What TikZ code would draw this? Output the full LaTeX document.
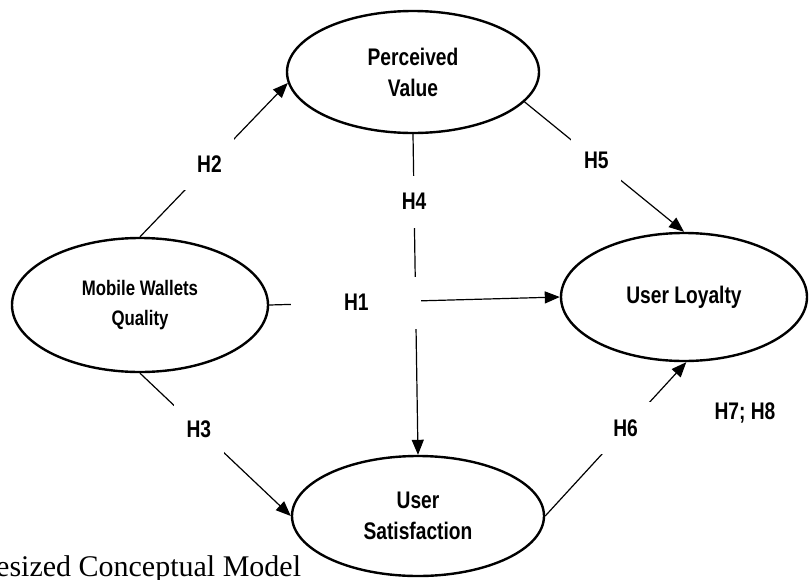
\documentclass[tikz,border=0pt]{standalone}
\usepackage{fontspec}
\usepackage{tikz}
\usetikzlibrary{arrows.meta,shapes.geometric}
\setmainfont{Liberation Serif}
\newfontfamily\hypfont[FakeStretch=0.8]{Liberation Sans}
\tikzset{
  construct/.style={ellipse, draw=black, line width=2.4pt, fill=white, align=center,
    inner sep=0pt, font=\hypfont\bfseries\fontsize{24}{31}\selectfont},
  hyplabel/.style={fill=white, inner sep=0pt, minimum width=50pt, minimum height=52pt,
    font=\hypfont\bfseries\fontsize{24}{28}\selectfont},
  flow/.style={-{Triangle[length=15pt,width=12pt]}, line width=1.2pt}
}

\begin{document}
\begin{tikzpicture}[x=1pt, y=-1pt]
\useasboundingbox (0,0) rectangle (809,579);

\node[construct, minimum width=256pt, minimum height=134pt,
      font=\hypfont\bfseries\fontsize{21}{30}\selectfont] (mwq) at (140,305) {Mobile Wallets\\Quality};
\node[construct, minimum width=252pt, minimum height=122pt] (pv) at (413,72) {Perceived\\Value};
\node[construct, minimum width=252pt, minimum height=120pt] (us) at (418,516) {User\\Satisfaction};
\node[construct, minimum width=246pt, minimum height=128pt] (ul) at (684,297) {User Loyalty};

\draw[flow] (pv.south) -- node[hyplabel, pos=0.21] {H4} (us.north);
\draw[flow] (mwq.east) -- node[hyplabel, pos=0.3, minimum width=130pt] {H1} (ul.west);
\draw[flow] (mwq.north) -- node[hyplabel, pos=0.47] {H2} (pv.185);
\draw[flow] (mwq.south) -- node[hyplabel, pos=0.39] {H3} (us.west);
\draw[flow] (pv.-15) -- node[hyplabel, pos=0.45] {H5} (ul.north);
\draw[flow] (us.east) -- node[hyplabel, pos=0.57] {H6} (ul.-88);

\node[font=\hypfont\bfseries\fontsize{24}{28}\selectfont] (h78) at (745,413) {H7; H8};

\node[anchor=base west, inner sep=0pt, font=\fontsize{30}{34}\selectfont] (caption) at (-4,576)
  {esized Conceptual Model};
\end{tikzpicture}
\end{document}
